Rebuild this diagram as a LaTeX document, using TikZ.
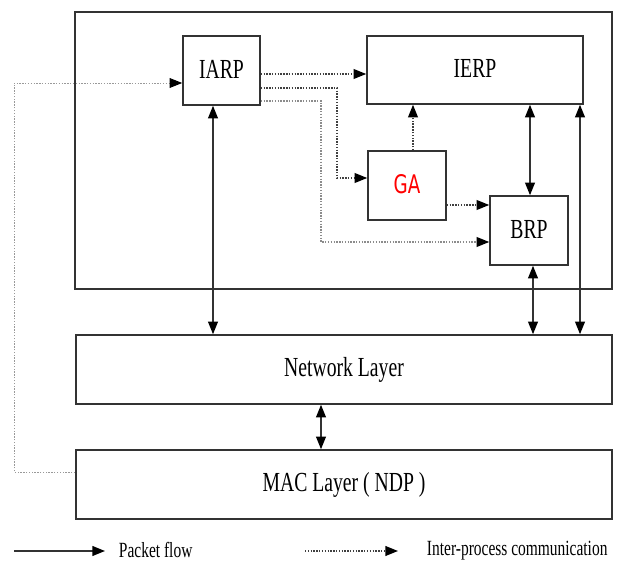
\documentclass[tikz,border=0pt]{standalone}
\usepackage{fontspec}
\setmainfont{Liberation Serif}
\newfontfamily\gafont{DejaVu Sans}
\usetikzlibrary{arrows.meta}
\newcommand\tallword[1]{\raisebox{2pt}{\scalebox{1}[1.4]{#1}}}

\begin{document}
\begin{tikzpicture}[
  x=0.025cm, y=-0.025cm,
  >={Triangle[length=9pt, width=7pt, black]},
  every node/.style={font=\fontsize{14}{16}\selectfont},
  block/.style={rectangle, draw=black!80, line width=1.1pt, align=center,
                inner sep=0pt},
  flow/.style={line width=1.1pt, draw=black!80},
  ipc/.style={->, line width=1pt, dash pattern=on 1pt off 1pt, draw=black!75},
  legend/.style={font=\fontsize{11}{13}\selectfont, anchor=west}
]
  \useasboundingbox (0,0) rectangle (618,563);

  % routing framework and layers
  \node[block, minimum width=13.425cm, minimum height=6.925cm] (core) at (343.5,150.5) {};
  \node[block, minimum width=1.925cm, minimum height=1.725cm] (IARP) at (221.5,70.5) {\tallword{IARP}};
  \node[block, minimum width=5.4cm, minimum height=1.7cm] (IERP) at (475,70) {\tallword{IERP}};
  \node[block, minimum width=1.95cm, minimum height=1.725cm, text=red,
        font=\gafont\fontsize{13}{15}\selectfont] (GA) at (407,185.5) {\tallword{GA}};
  \node[block, minimum width=1.95cm, minimum height=1.725cm] (BRP) at (529,230.5) {\tallword{BRP}};
  \node[block, minimum width=13.4cm, minimum height=1.725cm] (net) at (344,369.5) {\tallword{Network Layer}};
  \node[block, minimum width=13.4cm, minimum height=1.725cm] (mac) at (344,484.5) {\tallword{MAC Layer ( NDP )}};

  % packet flow
  \draw[flow, <->] (213,0 |- IARP.south) -- (213,0 |- net.north);
  \draw[flow, <->] (530,0 |- IERP.south) -- (530,0 |- BRP.north);
  \draw[flow, <->] (580,0 |- IERP.south) -- (580,0 |- net.north);
  \draw[flow, <->] (533,0 |- BRP.south) -- (533,0 |- net.north);
  \draw[flow, <->] (321,0 |- net.south) -- (321,0 |- mac.north);

  % inter-process communication
  \draw[ipc] (IARP.east |- 0,74) -- (IERP.west |- 0,74);
  \draw[ipc] (IARP.east |- 0,88) -| (337,178) -- (GA.west |- 0,178);
  \draw[ipc, draw=black!45] (IARP.east |- 0,101) -| (321,242) -- (BRP.west |- 0,242);
  \draw[ipc] (GA.east |- 0,205) -- (BRP.west |- 0,205);
  \draw[ipc] (413,0 |- GA.north) -- (413,0 |- IERP.south);
  \draw[ipc, draw=black!40, line width=0.7pt] (mac.west |- 0,472) -| (14,83) -- (IARP.west |- 0,83);

  % legend
  \coordinate (pf0) at (14,551);
  \coordinate (pf1) at (105,551);
  \coordinate (ic0) at (305,551);
  \coordinate (ic1) at (398,551);
  \draw[flow, ->] (pf0) -- (pf1);
  \node[legend] (pflabel) at (114,551) {\tallword{Packet flow}};
  \draw[ipc] (ic0) -- (ic1);
  \node[legend] (iclabel) at (422,551) {\tallword{Inter-process communication}};
\end{tikzpicture}
\end{document}
